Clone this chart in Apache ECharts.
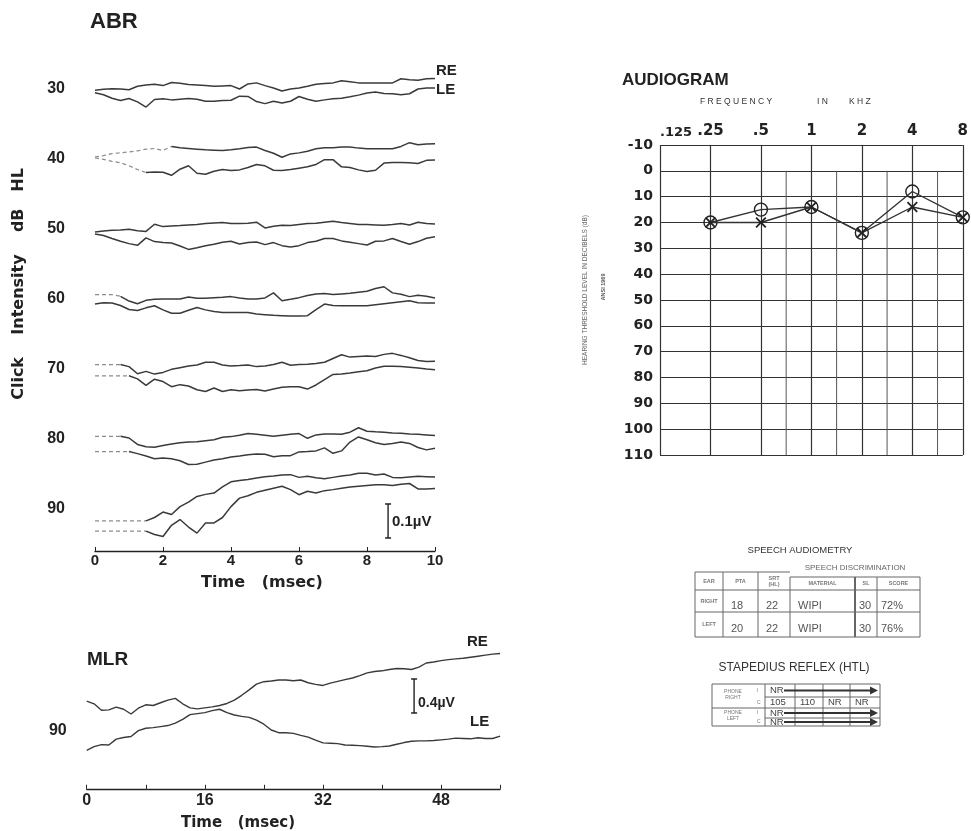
<!DOCTYPE html>
<html><head><meta charset="utf-8">
<script src="https://cdn.jsdelivr.net/npm/echarts@6.0.0/dist/echarts.min.js"></script>
<style>html,body{margin:0;padding:0;background:#fff}#c{width:971px;height:831px}</style>
</head><body><div id="c"></div>
<script>
// ---------- ABR: amplitude (nV) relative to each level's baseline, sampled every 0.25 ms (0..10 ms)
const abrTimeStep = 0.25;
const abrLevels = [30, 40, 50, 60, 70, 80, 90];
const abr30RE = [-4,-1,1,0,-2,8,12,14,10,19,17,13,12,10,8,9,10,0,15,18,10,3,-6,0,3,8,14,16,18,24,21,18,18,18,18,18,30,27,26,30,31];
const abr30LE = [-11,-17,-27,-34,-28,-38,-53,-31,-29,-32,-30,-28,-30,-36,-36,-34,-33,-21,-22,-37,-43,-36,-41,-36,-22,-30,-36,-32,-29,-27,-23,-18,-12,-9,-13,-14,-17,-14,0,3,3];
const abr40RE = [6,10,16,18,21,24,29,31,25,37,33,31,29,27,26,25,27,30,34,35,25,17,5,15,18,23,30,33,33,35,35,32,30,30,30,30,37,48,42,44,45];
const abr40LE = [3,-1,-7,-11,-20,-31,-40,-38,-39,-48,-30,-20,-42,-45,-36,-31,-34,-32,-25,-16,-20,-33,-34,-31,-27,-23,-16,-2,-2,-23,-25,-32,-37,-33,-12,-10,-10,-11,-13,-4,-3];
const abr50RE = [-9,-6,-4,-3,-1,-5,-7,14,7,9,10,12,13,16,18,19,16,16,17,20,3,8,11,10,13,16,17,20,23,19,16,13,13,12,11,13,16,12,20,16,15];
const abr50LE = [-15,-19,-28,-36,-43,-48,-26,-37,-40,-41,-50,-60,-55,-49,-45,-39,-36,-44,-40,-38,-46,-40,-49,-53,-49,-40,-36,-28,-28,-35,-39,-43,-47,-36,-35,-28,-37,-45,-37,-27,-23];
const abr60RE = [13,13,13,8,-6,-14,-4,-1,0,0,0,6,2,2,4,5,7,3,0,0,3,18,-5,-1,4,10,15,16,13,15,17,20,23,31,36,18,14,7,11,8,3];
const abr60LE = [-15,-11,-12,-19,-31,-34,-26,-20,-32,-42,-42,-33,-25,-32,-37,-40,-40,-40,-40,-44,-46,-48,-49,-50,-50,-49,-31,-15,-19,-20,-20,-20,-20,-17,-14,-11,-8,-5,-11,-12,-12];
const abr70RE = [13,13,13,13,7,-14,-7,-15,-10,-1,4,9,12,20,20,12,9,10,12,7,9,13,20,11,13,14,16,20,31,42,35,37,38,37,43,46,40,33,25,22,23];
const abr70LE = [-20,-20,-20,-20,-20,-29,-48,-30,-37,-52,-46,-50,-61,-66,-56,-66,-61,-64,-62,-60,-65,-59,-54,-52,-52,-59,-47,-31,-16,-15,-12,-8,-5,3,8,8,7,5,3,0,-2];
const abr80RE = [8,8,8,8,3,-16,-23,-24,-19,-15,-11,-9,-8,-5,-2,5,7,11,16,14,11,8,11,14,16,2,12,15,15,14,20,33,23,21,20,18,17,15,14,12,10];
const abr80LE = [-37,-37,-37,-37,-37,-43,-50,-58,-56,-58,-64,-75,-74,-68,-62,-58,-53,-50,-46,-44,-45,-52,-49,-49,-38,-37,-35,-26,-42,-35,-9,6,-2,-11,-16,-13,-9,-13,-25,-32,-27];
const abr90RE = [-35,-35,-35,-35,-35,-35,-35,-25,-9,-16,7,20,37,43,47,65,80,84,87,91,95,97,100,101,93,96,92,89,93,97,100,105,105,100,103,93,92,94,96,95,94];
const abr90LE = [-65,-65,-65,-65,-65,-65,-65,-75,-81,-48,-31,-53,-71,-41,-41,-25,7,32,39,49,55,61,67,57,42,52,47,54,57,61,65,67,69,71,71,69,73,75,59,59,60];
// end of the pre-stimulus (dashed) part of each trace, ms
const abrDashEndRE = [0, 2.25, 0, 0.75, 0.75, 0.75, 1.5];
const abrDashEndLE = [0, 1.5, 0, 0, 1.0, 1.0, 1.5];
const abrTimeTicks = [0, 2, 4, 6, 8, 10];
const abrScaleBarNv = 100;  // 0.1 µV

// ---------- MLR (90 dB): amplitude (nV), sampled every 1 ms (0..56 ms)
const mlrTimeStep = 1;
const mlrRE = [352,320,244,248,280,256,200,268,308,300,332,364,384,320,272,260,272,284,300,324,364,420,484,552,580,588,600,600,592,600,568,548,536,564,584,604,624,652,684,700,708,724,736,732,724,752,800,812,828,840,848,856,868,880,892,904,912];
const mlrLE = [-228,-184,-160,-164,-96,-76,-64,4,32,40,52,64,92,136,192,204,216,240,256,216,188,172,160,128,80,12,-20,-20,-28,-52,-72,-108,-140,-144,-148,-164,-168,-172,-180,-188,-184,-176,-156,-136,-120,-116,-116,-112,-104,-96,-84,-88,-92,-80,-88,-88,-60];
const mlrScaleBarNv = 400;  // 0.4 µV

// ---------- Audiogram
const audioFreqLabels = ['.125', '.25', '.5', '1', '2', '4', '8'];
const audioFreqs = [0.25, 0.5, 1, 2, 4, 8];
const audioRE = [20, 15, 14, 24, 8, 18];   // O
const audioLE = [20, 20, 14, 24, 14, 18];  // X
const audioMidFreqs = [0.75, 1.5, 3, 6];

// ---------- Tables
const speechHeaders = ['EAR', 'PTA', 'SRT\n(HL)', 'MATERIAL', 'SL', 'SCORE'];
const speechRight = ['RIGHT', '18', '22', 'WIPI', '30', '72%'];
const speechLeft = ['LEFT', '20', '22', 'WIPI', '30', '76%'];
const reflexRightI = ['NR'];
const reflexRightC = ['105', '110', 'NR', 'NR'];
const reflexLeftI = ['NR'];
const reflexLeftC = ['NR'];

// ================= build =================
const chart = echarts.init(document.getElementById('c'), null, {renderer: 'canvas'});
const dbPerNv = (10 / 70) * (34 / 100); // 10 dB rows are 70px apart; 0.1 µV spans 34px
const TRACE = '#3a3a3a';
const series = [];

const abrRE = [abr30RE, abr40RE, abr50RE, abr60RE, abr70RE, abr80RE, abr90RE];
const abrLE = [abr30LE, abr40LE, abr50LE, abr60LE, abr70LE, abr80LE, abr90LE];
function abrPts(level, arr, from, to) {
  const p = [];
  for (let i = from; i <= to; i++) p.push([i * abrTimeStep, level - arr[i] * dbPerNv]);
  return p;
}
function lineSeries(xi, data, ls) {
  return {type: 'line', xAxisIndex: xi, yAxisIndex: xi, data, symbol: 'none', showSymbol: false,
    silent: true, animation: false, lineStyle: ls, z: 3};
}
abrLevels.forEach((L, k) => {
  [[abrRE[k], abrDashEndRE[k]], [abrLE[k], abrDashEndLE[k]]].forEach(([arr, dEnd]) => {
    const kEnd = Math.round(dEnd / abrTimeStep);
    if (kEnd > 0) series.push(lineSeries(0, abrPts(L, arr, 0, kEnd), {color: '#8c8c8c', width: 1.2, type: [4, 3]}));
    series.push(lineSeries(0, abrPts(L, arr, kEnd, arr.length - 1), {color: TRACE, width: 1.5}));
  });
});
// ABR scale bar (0.1 µV)
const abrBarT = 8.62, abrBarBottom = 94.14;
series.push(Object.assign(lineSeries(0, [[abrBarT, abrBarBottom], [abrBarT, abrBarBottom - abrScaleBarNv * dbPerNv]], {color: '#222', width: 1.4}),
  {symbol: 'rect', symbolSize: [6, 1.5], showSymbol: true, itemStyle: {color: '#222'}}));

// MLR traces
const mlrPts = arr => arr.map((v, i) => [i * mlrTimeStep, v]);
series.push(lineSeries(1, mlrPts(mlrRE), {color: TRACE, width: 1.4}));
series.push(lineSeries(1, mlrPts(mlrLE), {color: TRACE, width: 1.4}));
const mlrBarT = 44.35, mlrBarBottom = 212;
series.push(Object.assign(lineSeries(1, [[mlrBarT, mlrBarBottom], [mlrBarT, mlrBarBottom + mlrScaleBarNv]], {color: '#222', width: 1.4}),
  {symbol: 'rect', symbolSize: [6, 1.5], showSymbol: true, itemStyle: {color: '#222'}}));

// Audiogram
const oct = f => Math.log2(f / 0.125);
audioMidFreqs.forEach(f => {
  const x = Math.round(oct(f) * 2) / 2; // form draws these half way between octaves
  series.push(lineSeries(2, [[x, 0], [x, 110]], {color: '#555', width: 1}));
});
series.push({type: 'line', xAxisIndex: 2, yAxisIndex: 2, animation: false, silent: true, z: 4,
  data: audioFreqs.map((f, i) => [oct(f), audioRE[i]]),
  symbol: 'circle', symbolSize: 13, showSymbol: true,
  itemStyle: {color: 'rgba(255,255,255,0)', borderColor: '#222', borderWidth: 1.4},
  lineStyle: {color: '#333', width: 1.4}});
series.push({type: 'line', xAxisIndex: 2, yAxisIndex: 2, animation: false, silent: true, z: 5,
  data: audioFreqs.map((f, i) => [oct(f), audioLE[i]]),
  symbol: 'path://M0,1.2L1.2,0L5,3.8L8.8,0L10,1.2L6.2,5L10,8.8L8.8,10L5,6.2L1.2,10L0,8.8L3.8,5Z',
  symbolSize: 11, showSymbol: true, itemStyle: {color: '#222'},
  lineStyle: {color: '#333', width: 1.4}});

// ---------- graphics (text + tables)
const G = [];
function txt(text, x, y, font, o) {
  o = o || {};
  const el = {type: 'text', x, y, silent: true, z: 10,
    style: {text, font, fill: o.fill || '#222', textAlign: o.align || 'left', textVerticalAlign: 'middle',
      align: o.align || 'left', verticalAlign: 'middle', lineHeight: o.lh}};
  if (o.rotation != null) el.rotation = o.rotation;
  G.push(el);
}
function ln(x1, y1, x2, y2, w, c) {
  G.push({type: 'line', silent: true, z: 9, shape: {x1, y1, x2, y2}, style: {stroke: c || '#666', lineWidth: w || 1}});
}
const SANS = '"Liberation Sans", Arial, sans-serif';
const DJ = '"DejaVu Sans", sans-serif';

txt('ABR', 90, 22, 'bold 22px ' + SANS);
txt('MLR', 87, 660, 'bold 19px ' + SANS);
txt('AUDIOGRAM', 622, 80, 'bold 17px ' + SANS);
txt('RE', 436, 71, 'bold 15px ' + SANS);
txt('LE', 436, 90, 'bold 15px ' + SANS);
txt('0.1\u00b5V', 392, 522, 'bold 15px ' + SANS);
txt('0.4\u00b5V', 418, 703, 'bold 14px ' + SANS);
txt('RE', 467, 642, 'bold 15px ' + SANS);
txt('LE', 470, 722, 'bold 15px ' + SANS);
txt('Time   (msec)', 262, 583, 'bold 16px ' + DJ, {align: 'center'});
txt('Time   (msec)', 238, 823, 'bold 15px ' + DJ, {align: 'center'});
txt('Click    Intensity    dB   HL', 19, 284, 'bold 16px ' + DJ, {align: 'center', rotation: Math.PI / 2});
txt('F R E Q U E N C Y', 700, 102, '8.5px ' + SANS, {fill: '#333'});
txt('I N', 817, 102, '8.5px ' + SANS, {fill: '#333'});
txt('K H Z', 849, 102, '8.5px ' + SANS, {fill: '#333'});
txt('HEARING THRESHOLD LEVEL IN DECIBELS (dB)', 585, 290, '6.5px ' + SANS, {align: 'center', rotation: Math.PI / 2, fill: '#666'});
txt('ANSI 1969', 603, 287, 'bold 5.5px ' + SANS, {align: 'center', rotation: Math.PI / 2, fill: '#555'});

// Speech audiometry table
txt('SPEECH AUDIOMETRY', 800, 550, '9.5px ' + SANS, {align: 'center', fill: '#333'});
txt('SPEECH DISCRIMINATION', 855, 568, '8px ' + SANS, {align: 'center', fill: '#666'});
const sCols = [695, 723, 758, 790, 855, 877, 920];
const sRows = [572, 590, 612, 637];
ln(sCols[0], sRows[0], sCols[3], sRows[0]);
ln(sCols[3], 577, sCols[6], 577);
for (let r = 1; r < sRows.length; r++) ln(sCols[0], sRows[r], sCols[6], sRows[r]);
sCols.forEach((x, i) => ln(x, i >= 3 ? 577 : sRows[0], x, sRows[3], i === 4 ? 2 : 1));
speechHeaders.forEach((h, i) => txt(h, (sCols[i] + sCols[i + 1]) / 2, i >= 3 ? 583.5 : 581, 'bold 5.5px ' + SANS, {align: 'center', fill: '#777', lh: 6}));
[[speechRight, 606], [speechLeft, 629]].forEach(([row, y]) => {
  row.forEach((v, i) => {
    if (i === 0) txt(v, (sCols[0] + sCols[1]) / 2, y - 5, 'bold 5.5px ' + SANS, {align: 'center', fill: '#777'});
    else txt(v, sCols[i] + (i >= 4 ? 4 : 8), y, '11px ' + SANS, {fill: '#555'});
  });
});

// Stapedius reflex table
txt('STAPEDIUS REFLEX (HTL)', 794, 668, '12px ' + SANS, {align: 'center', fill: '#333'});
const rCols = [712, 765, 795, 823, 850, 880];
const rRows = [684, 697, 708, 718, 726];
rRows.forEach((y, i) => ln(i === 1 || i === 3 ? rCols[1] : rCols[0], y, rCols[5], y));
rCols.forEach(x => ln(x, rRows[0], x, rRows[4]));
txt('PHONE\nRIGHT', 733, 695, '5px ' + SANS, {align: 'center', fill: '#777', lh: 6});
txt('PHONE\nLEFT', 733, 716, '5px ' + SANS, {align: 'center', fill: '#777', lh: 6});
[[reflexRightI, 'I', 690.5], [reflexRightC, 'C', 702.5], [reflexLeftI, 'I', 713], [reflexLeftC, 'C', 722]].forEach(([vals, m, y]) => {
  txt(m, 757, y, '5px ' + SANS, {fill: '#777'});
  vals.forEach((v, i) => txt(v, rCols[i + 1] + 5, y, '9.5px ' + SANS, {fill: '#444'}));
  if (vals.length === 1) {
    ln(rCols[1] + 19, y, rCols[5] - 6, y, 2, '#333');
    G.push({type: 'polygon', silent: true, z: 9, shape: {points: [[rCols[5] - 10, y - 4], [rCols[5] - 2, y], [rCols[5] - 10, y + 4]]}, style: {fill: '#333'}});
  }
});

const lbl = (size, extra) => Object.assign({fontFamily: SANS, fontWeight: 'bold', fontSize: size, color: '#222'}, extra || {});

chart.setOption({
  animation: false,
  backgroundColor: '#fff',
  grid: [
    {left: 95, top: 54, width: 340, height: 497},
    {left: 86.7, top: 615.4, width: 413.4, height: 173.4},
    {left: 660, top: 145, width: 306.7, height: 310}
  ],
  xAxis: [
    {gridIndex: 0, type: 'value', min: 0, max: 10, interval: 2,
      axisLine: {show: true, onZero: false, lineStyle: {color: '#222', width: 1.3}},
      axisTick: {show: true, inside: true, length: 4, lineStyle: {color: '#222'}},
      splitLine: {show: false},
      axisLabel: lbl(15, {margin: 2, formatter: v => abrTimeTicks.includes(v) ? String(v) : ''})},
    {gridIndex: 1, type: 'value', min: 0, max: 56, interval: 8,
      axisLine: {show: true, onZero: false, lineStyle: {color: '#222', width: 1.3}},
      axisTick: {show: true, inside: true, length: 4, lineStyle: {color: '#222'}},
      splitLine: {show: false},
      axisLabel: lbl(16, {margin: 4, formatter: v => (v % 16 === 0 && v <= 48) ? String(v) : ''})},
    {gridIndex: 2, type: 'value', position: 'top', min: 0, max: 6, interval: 1,
      axisLine: {show: false, onZero: false}, axisTick: {show: false},
      splitLine: {show: true, lineStyle: {color: '#333', width: 1.2}},
      axisLabel: {fontFamily: DJ, fontWeight: 'bold', fontSize: 15, color: '#222', margin: 6,
        alignMinLabel: 'left',
        formatter: v => v === 0 ? '{s|' + audioFreqLabels[0] + '}' : (audioFreqLabels[v] || ''),
        rich: {s: {fontFamily: DJ, fontWeight: 'bold', fontSize: 13, color: '#222'}}}}
  ],
  yAxis: [
    {gridIndex: 0, type: 'value', inverse: true, min: 25, max: 96, interval: 5,
      axisLine: {show: false}, axisTick: {show: false}, splitLine: {show: false},
      axisLabel: lbl(16, {margin: 30, formatter: v => (v % 10 === 0 && abrLevels.includes(v)) ? String(v) : ''})},
    {gridIndex: 1, type: 'value', min: -680, max: 1360, interval: 680,
      axisLine: {show: false}, axisTick: {show: false}, splitLine: {show: false},
      axisLabel: lbl(16, {margin: 20, formatter: v => v === 0 ? '90' : ''})},
    {gridIndex: 2, type: 'value', inverse: true, min: -10, max: 110, interval: 10,
      axisLine: {show: false}, axisTick: {show: false},
      splitLine: {show: true, lineStyle: {color: '#333', width: 1.2}},
      axisLabel: {fontFamily: DJ, fontWeight: 'bold', fontSize: 14, color: '#222', margin: 7}}
  ],
  series,
  graphic: {elements: G}
});
</script></body></html>
